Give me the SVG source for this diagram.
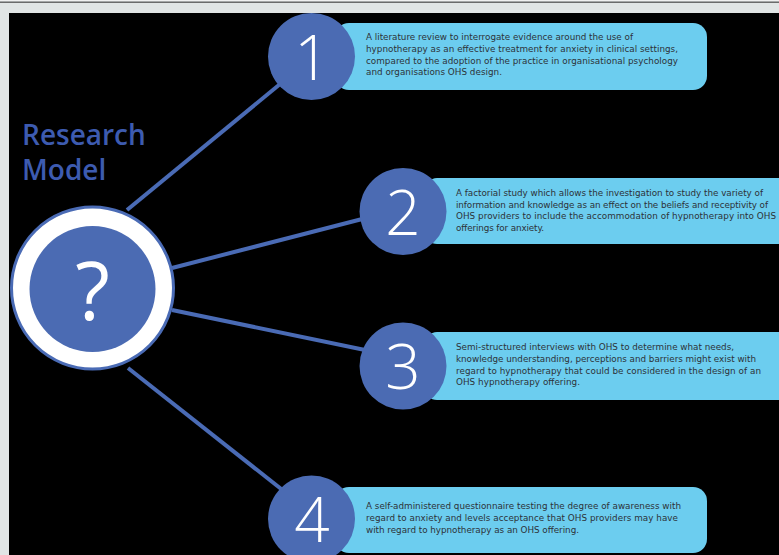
<svg xmlns="http://www.w3.org/2000/svg" width="779" height="555" viewBox="0 0 779 555">
<style>
.bg{fill:#000}
.conn line{stroke:#4a6bb5;stroke-width:4;stroke-linecap:butt}
.box{fill:#6ccdef}
.num{fill:#4b6bb3}
.digit{fill:#fff;font-family:"Open Sans","Liberation Sans",sans-serif;font-weight:300;font-size:62px;text-anchor:middle}
.desc{fill:#2d3238;font-family:"DejaVu Sans","Liberation Sans",sans-serif;font-size:8.8px}
.title{fill:#3d5bb0;font-family:"Open Sans","Liberation Sans",sans-serif;font-weight:600;font-size:28px}
</style>
<rect x="0" y="0" width="779" height="555" fill="#e1e5e5"/>
<rect x="0" y="0" width="779" height="1" fill="#f0f0f0"/>
<rect x="0" y="1.5" width="779" height="1.5" fill="#6b6b6b"/>
<rect class="bg" x="9" y="13" width="770" height="542"/>

<g id="title">
<text class="title" x="22" y="145">Research</text>
<text class="title" x="22" y="180">Model</text>
</g>

<g id="connectors" class="conn">
<line x1="127" y1="210" x2="285" y2="80"/>
<line x1="172" y1="268" x2="370" y2="217"/>
<line x1="172" y1="310" x2="365" y2="350"/>
<line x1="128" y1="368" x2="285" y2="492"/>
</g>

<g id="center">
<circle cx="92.5" cy="288" r="81" fill="#fff" stroke="#4a6bb5" stroke-width="3"/>
<circle cx="92.5" cy="289" r="63" fill="#4b6bb3"/>
<text x="92.5" y="320" fill="#fff" font-family="Open Sans, Liberation Sans, sans-serif" font-weight="400" font-size="80" text-anchor="middle">?</text>
</g>

<g id="step1">
<rect class="box" x="335" y="23" width="372" height="67" rx="14"/>
<circle class="num" cx="311.5" cy="56.5" r="43.5"/>
<text class="digit" x="312" y="80">1</text>
<text class="desc" x="366" y="40" textLength="267">A literature review to interrogate evidence around the use of</text>
<text class="desc" x="366" y="52" textLength="312">hypnotherapy as an effective treatment for anxiety in clinical settings,</text>
<text class="desc" x="366" y="63.5" textLength="312">compared to the adoption of the practice in organisational psychology</text>
<text class="desc" x="366" y="75" textLength="136">and organisations OHS design.</text>
</g>

<g id="step2">
<rect class="box" x="425" y="178" width="365" height="66" rx="12"/>
<circle class="num" cx="403" cy="211.5" r="43.5"/>
<text class="digit" x="403" y="235">2</text>
<text class="desc" x="456" y="196" textLength="307">A factorial study which allows the investigation to study the variety of</text>
<text class="desc" x="456" y="207.5" textLength="312">information and knowledge as an effect on the beliefs and receptivity of</text>
<text class="desc" x="456" y="219" textLength="320">OHS providers to include the accommodation of hypnotherapy into OHS</text>
<text class="desc" x="456" y="230.5" textLength="88">offerings for anxiety.</text>
</g>

<g id="step3">
<rect class="box" x="425" y="332" width="365" height="68" rx="12"/>
<circle class="num" cx="403" cy="366" r="43.5"/>
<text class="digit" x="403" y="389">3</text>
<text class="desc" x="456" y="350" textLength="278">Semi-structured interviews with OHS to determine what needs,</text>
<text class="desc" x="456" y="362" textLength="300">knowledge understanding, perceptions and barriers might exist with</text>
<text class="desc" x="456" y="373.5" textLength="305">regard to hypnotherapy that could be considered in the design of an</text>
<text class="desc" x="456" y="385" textLength="124">OHS hypnotherapy offering.</text>
</g>

<g id="step4">
<rect class="box" x="335" y="487" width="372" height="66" rx="14"/>
<circle class="num" cx="311.5" cy="519" r="43.5"/>
<text class="digit" x="312" y="542">4</text>
<text class="desc" x="366" y="509" textLength="315">A self-administered questionnaire testing the degree of awareness with</text>
<text class="desc" x="366" y="521" textLength="312">regard to anxiety and levels acceptance that OHS providers may have</text>
<text class="desc" x="366" y="533" textLength="213">with regard to hypnotherapy as an OHS offering.</text>
</g>
</svg>
